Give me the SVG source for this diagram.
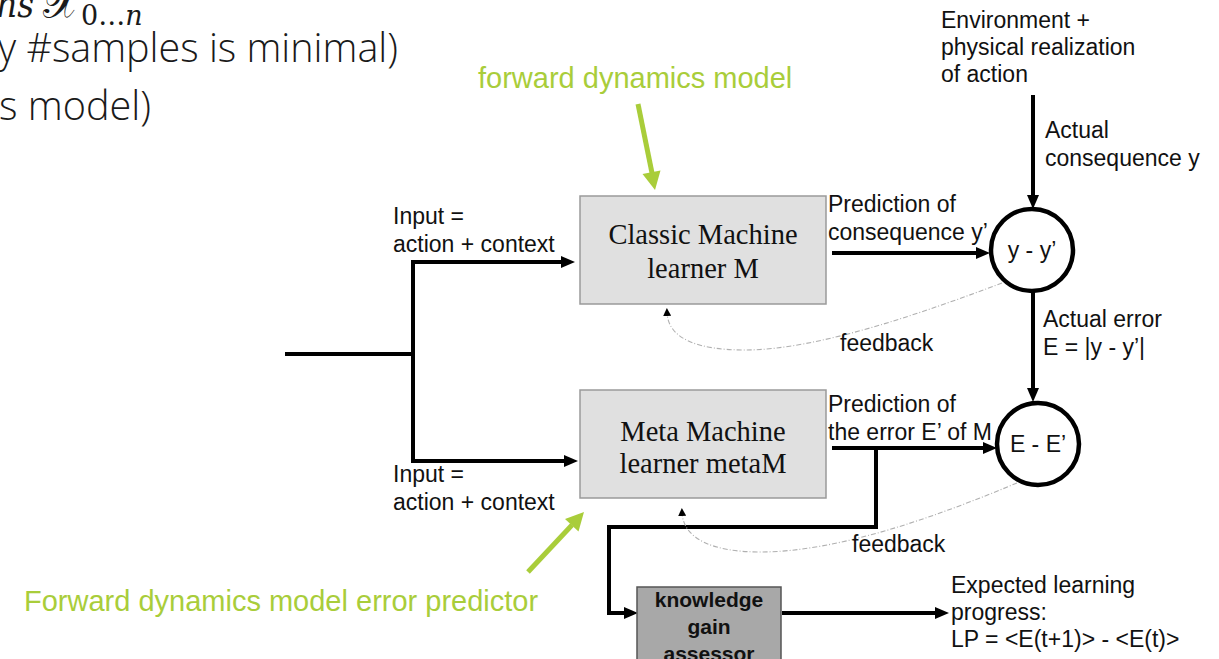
<svg xmlns="http://www.w3.org/2000/svg" width="1219" height="659" viewBox="0 0 1219 659">
  <style>
    .lbl { font-family: "Liberation Sans", Arial, sans-serif; font-size: 23px; fill: #111; }
    .box { fill: #e0e0e0; stroke: #9a9a9a; stroke-width: 1.5; }
    .boxtxt { font-family: "Liberation Serif", "Times New Roman", serif; font-size: 28.5px; fill: #111; text-anchor: middle; }
    .kbox { fill: #a8a8a8; stroke: #555; stroke-width: 1.5; }
    .ktxt { font-family: "Liberation Sans", Arial, sans-serif; font-size: 21px; font-weight: bold; fill: #111; text-anchor: middle; }
    .wire { fill: none; stroke: #000; stroke-width: 4; }
    .arrow { fill: none; stroke: #000; stroke-width: 4; marker-end: url(#head); }
    .sum { fill: #fff; stroke: #000; stroke-width: 4.5; }
    .sumtxt { font-family: "Liberation Sans", Arial, sans-serif; font-size: 23px; fill: #111; text-anchor: middle; }
    .fb { fill: none; stroke: #b0b0b0; stroke-width: 1.1; stroke-dasharray: 5 2 1 2; marker-end: url(#smallhead); }
    .note { font-family: "Liberation Sans", Arial, sans-serif; font-size: 29px; fill: #a9cd3a; }
    .pointer { stroke: #a9cd3a; stroke-width: 5; fill: none; }
    .slide { font-family: "Open Sans", "Noto Sans", sans-serif; font-size: 40px; font-weight: 300; fill: #1a1a1a; }
    .math { font-family: "DejaVu Serif", "Liberation Serif", serif; fill: #1a1a1a; }
  </style>
  <defs>
    <marker id="head" viewBox="0 0 14 12" markerWidth="14" markerHeight="12" refX="6" refY="6" markerUnits="userSpaceOnUse" orient="auto">
      <path d="M0,0 L14,6 L0,12 z" fill="#000"/>
    </marker>
    <marker id="smallhead" viewBox="0 0 8 8" markerWidth="8" markerHeight="8" refX="4" refY="4" markerUnits="userSpaceOnUse" orient="auto">
      <path d="M0,0 L8,4 L0,8 z" fill="#000"/>
    </marker>
  </defs>

  <!-- slide text running off the left edge -->
  <g id="slide-text">
    <text class="math" x="-4" y="17" font-size="38" font-style="italic" textLength="38" lengthAdjust="spacingAndGlyphs">ns</text>
    <text class="math" x="43" y="18" font-size="48" textLength="36" lengthAdjust="spacingAndGlyphs">𝒳</text>
    <text class="math" x="81" y="25" font-size="27">0…<tspan font-style="italic">n</tspan></text>
    <text class="slide" x="-2" y="62" textLength="400" lengthAdjust="spacingAndGlyphs">y #samples is minimal)</text>
    <text class="slide" x="-1" y="120" textLength="152" lengthAdjust="spacingAndGlyphs">s model)</text>
  </g>

  <!-- connectors -->
  <g id="connectors">
    <!-- input split -->
    <path class="wire" d="M285,354 H413"/>
    <path class="wire" d="M413,260 V463"/>
    <path class="arrow" d="M411,262 H567"/>
    <path class="arrow" d="M411,461 H570"/>
    <!-- predictions into the comparators -->
    <path class="arrow" d="M832,253 H982"/>
    <path class="arrow" d="M832,448 H989"/>
    <!-- actual consequence and actual error -->
    <path class="arrow" d="M1033,95 V201"/>
    <path class="arrow" d="M1033,291 V394"/>
    <!-- predicted error to the knowledge gain assessor -->
    <path class="arrow" d="M876,448 V527 H609 V613 H630"/>
    <!-- learning progress output -->
    <path class="arrow" d="M782,613 H941"/>
    <!-- feedback paths -->
    <path class="fb" d="M1002,283 C930,310 820,350 745,350 C700,350 668,340 667,312"/>
    <path class="fb" d="M1017,483 C940,515 840,552 760,552 C715,552 683,540 682,512"/>
  </g>

  <g id="classic-learner">
    <rect class="box" x="580" y="196" width="246" height="108"/>
    <text class="boxtxt" x="703" y="244">Classic Machine</text>
    <text class="boxtxt" x="703" y="278">learner M</text>
  </g>

  <g id="meta-learner">
    <rect class="box" x="580" y="390" width="246" height="108"/>
    <text class="boxtxt" x="703" y="441">Meta Machine</text>
    <text class="boxtxt" x="703" y="473">learner metaM</text>
  </g>

  <g id="knowledge-gain-assessor">
    <rect class="kbox" x="637" y="587" width="144" height="85"/>
    <text class="ktxt" x="709" y="607">knowledge</text>
    <text class="ktxt" x="709" y="634">gain</text>
    <text class="ktxt" x="709" y="661">assessor</text>
  </g>

  <g id="error-comparator">
    <circle class="sum" cx="1032" cy="250" r="41"/>
    <text class="sumtxt" x="1032" y="258">y - y’</text>
  </g>

  <g id="progress-comparator">
    <circle class="sum" cx="1038" cy="444" r="41"/>
    <text class="sumtxt" x="1038" y="452">E - E’</text>
  </g>

  <g id="labels">
    <text class="lbl" x="941" y="28">Environment +</text>
    <text class="lbl" x="941" y="55">physical realization</text>
    <text class="lbl" x="941" y="82">of action</text>
    <text class="lbl" x="1045" y="138">Actual</text>
    <text class="lbl" x="1045" y="166">consequence y</text>
    <text class="lbl" x="393" y="224">Input =</text>
    <text class="lbl" x="393" y="252">action + context</text>
    <text class="lbl" x="828" y="212">Prediction of</text>
    <text class="lbl" x="828" y="240">consequence y’</text>
    <text class="lbl" x="1043" y="327">Actual error</text>
    <text class="lbl" x="1043" y="355">E = |y - y’|</text>
    <text class="lbl" x="840" y="351">feedback</text>
    <text class="lbl" x="828" y="412">Prediction of</text>
    <text class="lbl" x="828" y="440">the error E’ of M</text>
    <text class="lbl" x="393" y="482">Input =</text>
    <text class="lbl" x="393" y="510">action + context</text>
    <text class="lbl" x="852" y="552">feedback</text>
    <text class="lbl" x="951" y="593">Expected learning</text>
    <text class="lbl" x="951" y="620">progress:</text>
    <text class="lbl" x="951" y="647">LP = &lt;E(t+1)&gt; - &lt;E(t)&gt;</text>
  </g>

  <!-- green callouts -->
  <g id="callout-forward-model">
    <text class="note" x="478" y="88">forward dynamics model</text>
    <path class="pointer" d="M638,104 L652,173"/>
    <polygon points="655,190 660.5,170.5 642.5,174" fill="#a9cd3a"/>
  </g>
  <g id="callout-error-predictor">
    <text class="note" x="24" y="611">Forward dynamics model error predictor</text>
    <path class="pointer" d="M528,572 L572,525"/>
    <polygon points="584,512 578.5,531.5 565,519" fill="#a9cd3a"/>
  </g>
</svg>
